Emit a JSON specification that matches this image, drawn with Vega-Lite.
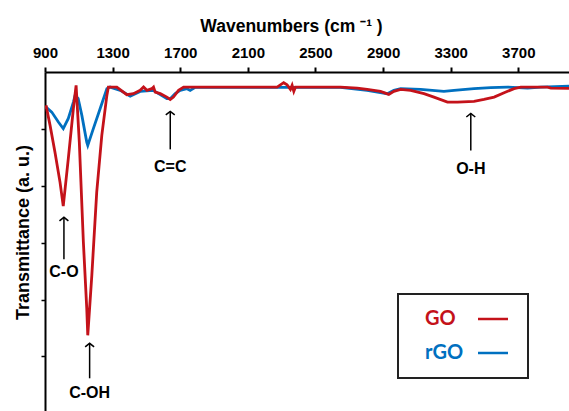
{
  "$schema": "https://vega.github.io/schema/vega-lite/v6.json",
  "width": 524,
  "height": 339,
  "autosize": {"type": "none"},
  "padding": {"left": 45, "top": 72, "right": 0, "bottom": 0},
  "background": "white",
  "config": {"view": {"stroke": null}, "font": "Liberation Sans"},
  "datasets": {
    "spectra": [
      {"sample": "GO", "wn": 906, "t": 5.413},
      {"sample": "GO", "wn": 930, "t": 5.062},
      {"sample": "GO", "wn": 959, "t": 4.587},
      {"sample": "GO", "wn": 989, "t": 4.060},
      {"sample": "GO", "wn": 1008, "t": 3.643},
      {"sample": "GO", "wn": 1038, "t": 4.482},
      {"sample": "GO", "wn": 1068, "t": 5.360},
      {"sample": "GO", "wn": 1084, "t": 5.765},
      {"sample": "GO", "wn": 1103, "t": 4.768},
      {"sample": "GO", "wn": 1127, "t": 3.011},
      {"sample": "GO", "wn": 1147, "t": 1.845},
      {"sample": "GO", "wn": 1153, "t": 1.371},
      {"sample": "GO", "wn": 1177, "t": 2.425},
      {"sample": "GO", "wn": 1206, "t": 3.889},
      {"sample": "GO", "wn": 1236, "t": 4.886},
      {"sample": "GO", "wn": 1266, "t": 5.589},
      {"sample": "GO", "wn": 1275, "t": 5.735},
      {"sample": "GO", "wn": 1325, "t": 5.735},
      {"sample": "GO", "wn": 1384, "t": 5.601},
      {"sample": "GO", "wn": 1423, "t": 5.619},
      {"sample": "GO", "wn": 1463, "t": 5.677},
      {"sample": "GO", "wn": 1483, "t": 5.735},
      {"sample": "GO", "wn": 1503, "t": 5.677},
      {"sample": "GO", "wn": 1532, "t": 5.707},
      {"sample": "GO", "wn": 1542, "t": 5.735},
      {"sample": "GO", "wn": 1552, "t": 5.647},
      {"sample": "GO", "wn": 1582, "t": 5.619},
      {"sample": "GO", "wn": 1621, "t": 5.559},
      {"sample": "GO", "wn": 1641, "t": 5.518},
      {"sample": "GO", "wn": 1660, "t": 5.559},
      {"sample": "GO", "wn": 1690, "t": 5.677},
      {"sample": "GO", "wn": 1720, "t": 5.735},
      {"sample": "GO", "wn": 2273, "t": 5.735},
      {"sample": "GO", "wn": 2312, "t": 5.812},
      {"sample": "GO", "wn": 2332, "t": 5.777},
      {"sample": "GO", "wn": 2352, "t": 5.694},
      {"sample": "GO", "wn": 2362, "t": 5.765},
      {"sample": "GO", "wn": 2372, "t": 5.659},
      {"sample": "GO", "wn": 2382, "t": 5.735},
      {"sample": "GO", "wn": 2648, "t": 5.735},
      {"sample": "GO", "wn": 2747, "t": 5.717},
      {"sample": "GO", "wn": 2806, "t": 5.694},
      {"sample": "GO", "wn": 2885, "t": 5.659},
      {"sample": "GO", "wn": 2934, "t": 5.606},
      {"sample": "GO", "wn": 2964, "t": 5.659},
      {"sample": "GO", "wn": 3004, "t": 5.694},
      {"sample": "GO", "wn": 3063, "t": 5.677},
      {"sample": "GO", "wn": 3142, "t": 5.619},
      {"sample": "GO", "wn": 3201, "t": 5.559},
      {"sample": "GO", "wn": 3281, "t": 5.471},
      {"sample": "GO", "wn": 3340, "t": 5.471},
      {"sample": "GO", "wn": 3438, "t": 5.483},
      {"sample": "GO", "wn": 3497, "t": 5.518},
      {"sample": "GO", "wn": 3557, "t": 5.559},
      {"sample": "GO", "wn": 3616, "t": 5.636},
      {"sample": "GO", "wn": 3675, "t": 5.707},
      {"sample": "GO", "wn": 3715, "t": 5.735},
      {"sample": "GO", "wn": 3873, "t": 5.735},
      {"sample": "GO", "wn": 3893, "t": 5.717},
      {"sample": "GO", "wn": 4000, "t": 5.712},
      {"sample": "rGO", "wn": 906, "t": 5.383},
      {"sample": "rGO", "wn": 940, "t": 5.295},
      {"sample": "rGO", "wn": 979, "t": 5.120},
      {"sample": "rGO", "wn": 1008, "t": 5.004},
      {"sample": "rGO", "wn": 1038, "t": 5.185},
      {"sample": "rGO", "wn": 1068, "t": 5.471},
      {"sample": "rGO", "wn": 1078, "t": 5.589},
      {"sample": "rGO", "wn": 1096, "t": 5.536},
      {"sample": "rGO", "wn": 1118, "t": 5.237},
      {"sample": "rGO", "wn": 1147, "t": 4.768},
      {"sample": "rGO", "wn": 1153, "t": 4.710},
      {"sample": "rGO", "wn": 1186, "t": 5.004},
      {"sample": "rGO", "wn": 1226, "t": 5.355},
      {"sample": "rGO", "wn": 1266, "t": 5.707},
      {"sample": "rGO", "wn": 1285, "t": 5.735},
      {"sample": "rGO", "wn": 1345, "t": 5.677},
      {"sample": "rGO", "wn": 1404, "t": 5.576},
      {"sample": "rGO", "wn": 1463, "t": 5.659},
      {"sample": "rGO", "wn": 1540, "t": 5.677},
      {"sample": "rGO", "wn": 1621, "t": 5.531},
      {"sample": "rGO", "wn": 1641, "t": 5.531},
      {"sample": "rGO", "wn": 1670, "t": 5.619},
      {"sample": "rGO", "wn": 1700, "t": 5.677},
      {"sample": "rGO", "wn": 1740, "t": 5.707},
      {"sample": "rGO", "wn": 1759, "t": 5.677},
      {"sample": "rGO", "wn": 1789, "t": 5.729},
      {"sample": "rGO", "wn": 2648, "t": 5.729},
      {"sample": "rGO", "wn": 2806, "t": 5.677},
      {"sample": "rGO", "wn": 2925, "t": 5.619},
      {"sample": "rGO", "wn": 2964, "t": 5.677},
      {"sample": "rGO", "wn": 3004, "t": 5.707},
      {"sample": "rGO", "wn": 3122, "t": 5.694},
      {"sample": "rGO", "wn": 3260, "t": 5.659},
      {"sample": "rGO", "wn": 3320, "t": 5.677},
      {"sample": "rGO", "wn": 3438, "t": 5.707},
      {"sample": "rGO", "wn": 3537, "t": 5.724},
      {"sample": "rGO", "wn": 3636, "t": 5.735},
      {"sample": "rGO", "wn": 3755, "t": 5.717},
      {"sample": "rGO", "wn": 3833, "t": 5.735},
      {"sample": "rGO", "wn": 4000, "t": 5.752}
    ],
    "notes": [
      {"label": "C-O", "wn": 1012, "top": 3.445, "bottom": 2.707, "ty": 2.478},
      {"label": "C-OH", "wn": 1164, "top": 1.230, "bottom": 0.615, "ty": 0.351},
      {"label": "C=C", "wn": 1641, "top": 5.308, "bottom": 4.640, "ty": 4.323},
      {"label": "O-H", "wn": 3419, "top": 5.272, "bottom": 4.622, "ty": 4.288}
    ]
  },
  "layer": [
    {
      "data": {"name": "spectra"},
      "transform": [{"filter": "datum.sample == 'rGO'"}],
      "mark": {"type": "line", "strokeWidth": 2.8, "clip": true},
      "encoding": {
        "x": {
          "field": "wn", "type": "quantitative",
          "scale": {"domain": [900, 4000], "nice": false, "zero": false},
          "axis": {
            "orient": "top",
            "values": [900, 1100, 1300, 1500, 1700, 1900, 2100, 2300, 2500, 2700, 2900, 3100, 3300, 3500, 3700, 3900],
            "format": "d",
            "labelExpr": "datum.value % 400 == 100 ? datum.label : ''",
            "labelOverlap": false,
            "labelFlush": false,
            "grid": false,
            "domainColor": "black",
            "domainWidth": 2,
            "tickColor": "black",
            "tickWidth": 2,
            "tickSize": 5,
            "labelPadding": 7,
            "labelFont": "Liberation Sans",
            "labelFontSize": 15,
            "labelFontWeight": "bold",
            "labelColor": "black",
            "title": "Wavenumbers (cm ⁻¹ )",
            "titleFont": "Liberation Sans",
            "titleFontSize": 17.5,
            "titleFontWeight": "bold",
            "titleColor": "black",
            "titleX": 246,
            "titleY": -46,
            "titleBaseline": "middle"
          }
        },
        "y": {
          "field": "t", "type": "quantitative",
          "scale": {"domain": [0.04, 6], "nice": false, "zero": false},
          "axis": {
            "orient": "left",
            "values": [1, 2, 3, 4, 5],
            "labels": false,
            "grid": false,
            "domainColor": "black",
            "domainWidth": 2,
            "tickColor": "black",
            "tickWidth": 1.5,
            "tickSize": 4,
            "title": "Transmittance (a. u.)",
            "titleFont": "Liberation Sans",
            "titleFontSize": 18,
            "titleFontWeight": "bold",
            "titleColor": "black",
            "titleAngle": -90,
            "titleX": -22,
            "titleY": 160,
            "titleBaseline": "middle"
          }
        },
        "color": {
          "field": "sample", "type": "nominal",
          "scale": {"domain": ["GO", "rGO"], "range": ["#C4121A", "#0070C0"]},
          "legend": {
            "orient": "none",
            "legendX": 353,
            "legendY": 222,
            "title": null,
            "direction": "vertical",
            "padding": 15,
            "strokeColor": "#222222",
            "fillColor": "white",
            "labelFont": "Lato",
            "labelFontSize": 20,
            "labelFontWeight": "bold",
            "symbolType": "M-3,0H3",
            "symbolSize": 100,
            "symbolStrokeWidth": 2.5,
            "rowPadding": 14,
            "encode": {
              "legend": {"update": {"strokeWidth": {"value": 2}}},
              "labels": {"update": {"fill": {"signal": "datum.value == 'GO' ? '#C4121A' : '#0070C0'"}, "x": {"value": 12}}},
              "symbols": {"update": {"x": {"value": 80}}}
            }
          }
        }
      }
    },
    {
      "data": {"name": "spectra"},
      "transform": [{"filter": "datum.sample == 'GO'"}],
      "mark": {"type": "line", "strokeWidth": 2.8, "clip": true},
      "encoding": {
        "x": {"field": "wn", "type": "quantitative"},
        "y": {"field": "t", "type": "quantitative"},
        "color": {"field": "sample", "type": "nominal"}
      }
    },
    {
      "data": {"name": "notes"},
      "mark": {"type": "rule", "color": "black", "strokeWidth": 1.5},
      "encoding": {
        "x": {"field": "wn", "type": "quantitative"},
        "y": {"field": "bottom", "type": "quantitative"},
        "y2": {"field": "top"}
      }
    },
    {
      "data": {"name": "notes"},
      "mark": {"type": "point", "shape": "M-1,0.8L0,0L1,0.8", "filled": false, "stroke": "black", "strokeWidth": 1.5, "size": 80, "opacity": 1},
      "encoding": {
        "x": {"field": "wn", "type": "quantitative"},
        "y": {"field": "top", "type": "quantitative"}
      }
    },
    {
      "data": {"name": "notes"},
      "mark": {"type": "text", "font": "Liberation Sans", "fontSize": 16, "fontWeight": "bold", "color": "black", "baseline": "middle", "align": "center"},
      "encoding": {
        "x": {"field": "wn", "type": "quantitative"},
        "y": {"field": "ty", "type": "quantitative"},
        "text": {"field": "label"}
      }
    }
  ]
}
